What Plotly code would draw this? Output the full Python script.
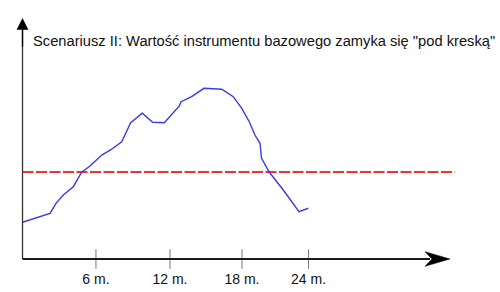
import plotly.graph_objects as go

# ---- data (months, value; strike level = 100) ----
months = [0, 2.27, 2.77, 3.37, 4.20, 4.89, 5.58, 6.55, 7.31, 8.20, 8.94, 9.90,
          10.76, 11.72, 12.96, 13.10, 13.98, 15.0, 16.46, 17.42, 18.12, 18.74,
          19.21, 19.63, 19.75, 20.40, 21.55, 22.25, 22.85, 23.62]
values = [42.2, 52.5, 64.0, 73.6, 83.1, 99.7, 106.9, 119.5, 125.6, 134.8, 156.7,
          167.5, 157.1, 156.7, 175.9, 180.8, 186.6, 196.2, 195.1, 186.6, 173.2,
          157.8, 142.5, 133.0, 116.1, 99.7, 79.3, 65.9, 54.4, 58.3]
strike_x = [0, 35.74]
strike_y = [100, 100]
tick_vals = [6.07, 12.19, 18.14, 23.64]
tick_text = ["6 m.", "12 m.", "18 m.", "24 m."]
title_text = 'Scenariusz II: Wartość instrumentu bazowego zamyka się "pod kreską"'

X_AXIS_END = 35.33
Y_AXIS_END = 277.0
X_RANGE = [-1.860, 39.463]
Y_RANGE = [-37.93, 297.70]
W, H = 500, 292
PX_X = W / (X_RANGE[1] - X_RANGE[0])   # pixels per month
PX_Y = H / (Y_RANGE[1] - Y_RANGE[0])   # pixels per value unit


def arrow_xy(tip_x, tip_y, pts):
    """pts: pixel offsets (dx right, dy up) relative to the tip -> data lists."""
    xs = [tip_x + dx / PX_X for dx, dy in pts]
    ys = [tip_y + dy / PX_Y for dx, dy in pts]
    return xs + xs[:1], ys + ys[:1]


fig = go.Figure()

# red dashed strike line
fig.add_trace(go.Scatter(x=strike_x, y=strike_y, mode="lines",
                         line=dict(color="#ee3333", width=2, dash="11px,2.5px"),
                         hoverinfo="skip"))
# blue price path
fig.add_trace(go.Scatter(x=months, y=values, mode="lines",
                         line=dict(color="#3a3ae0", width=1.4),
                         hoverinfo="skip"))
# tick marks crossing the axis
fig.add_trace(go.Scatter(x=tick_vals, y=[0] * len(tick_vals), mode="markers",
                         marker=dict(symbol="line-ns", size=14,
                                     line=dict(color="#777777", width=1)),
                         hoverinfo="skip"))

# axis lines
fig.add_trace(go.Scatter(x=[0, X_AXIS_END - 20 / PX_X], y=[0, 0], mode="lines",
                         line=dict(color="#1a1a1a", width=2), hoverinfo="skip"))
fig.add_trace(go.Scatter(x=[0, 0], y=[0, Y_AXIS_END - 9 / PX_Y], mode="lines",
                         line=dict(color="#333333", width=1.3), hoverinfo="skip"))
# x arrow head
ax_x, ax_y = arrow_xy(X_AXIS_END, 0, [(0, 0), (-25, 7.3), (-18, 0), (-25, -7.3)])
fig.add_trace(go.Scatter(x=ax_x, y=ax_y, mode="lines", fill="toself",
                         fillcolor="#000000", line=dict(color="#000000", width=0.5),
                         hoverinfo="skip"))

fig.update_layout(
    width=W, height=H,
    margin=dict(l=0, r=0, t=0, b=0),
    paper_bgcolor="white", plot_bgcolor="white",
    showlegend=False,
    xaxis=dict(range=X_RANGE, showgrid=False, zeroline=False, showline=False,
               tickvals=tick_vals, ticktext=tick_text, ticks="outside",
               ticklen=7, tickcolor="rgba(0,0,0,0)", anchor="free",
               position=(292 - 259) / 292, automargin=False,
               tickfont=dict(family="Liberation Sans, Arial", size=14, color="#111")),
    yaxis=dict(range=Y_RANGE, visible=False),
    annotations=[
        dict(text=title_text, xref="paper", yref="paper",
             x=31 / 500, y=1 - 40.5 / 292, xanchor="left", yanchor="middle",
             showarrow=False,
             font=dict(family="Liberation Sans, Arial", size=14.7, color="#111")),
        # y axis arrow head
        dict(text="", x=0, y=Y_AXIS_END, xref="x", yref="y",
             ax=0, ay=Y_AXIS_END - 30 / PX_Y, axref="x", ayref="y",
             showarrow=True, arrowhead=2, arrowsize=1.8, arrowwidth=1.3,
             arrowcolor="#000000", standoff=0),
    ],
)

fig.write_html("out.html")
